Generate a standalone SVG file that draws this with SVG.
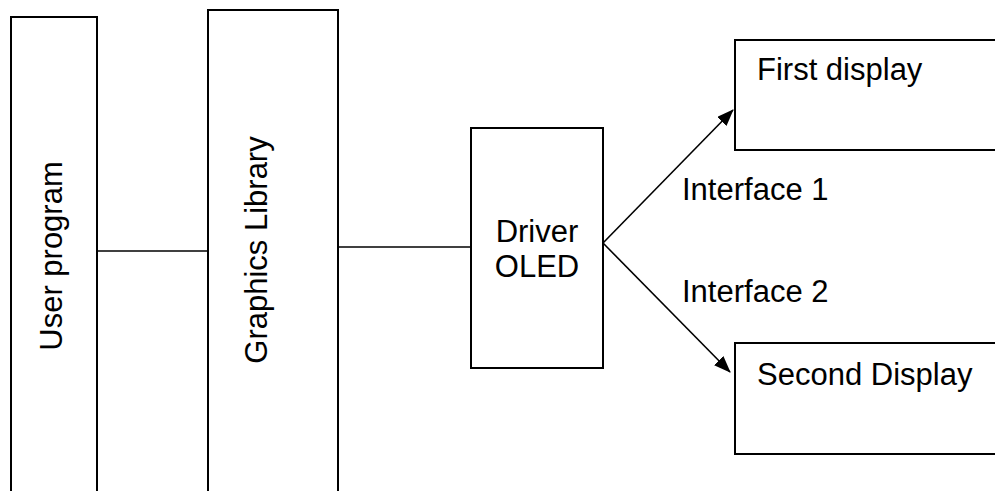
<svg xmlns="http://www.w3.org/2000/svg" width="995" height="491" viewBox="0 0 995 491">
<style>
.box{fill:#fff;stroke:#000;stroke-width:2}
.lbl{font-family:"Liberation Sans",Arial,sans-serif;font-size:31px;fill:#000}
.con{stroke:#000;stroke-width:1.6;fill:none}
</style>
<defs>
<marker id="arr" markerUnits="userSpaceOnUse" markerWidth="18" markerHeight="14" refX="16" refY="6.5" orient="auto">
<path d="M0,0 L17,6.5 L0,13 z" fill="#000"/>
</marker>
</defs>
<rect width="995" height="491" fill="#fff"/>
<g id="connectors">
<line class="con" x1="97" y1="251" x2="208" y2="251"/>
<line class="con" x1="338" y1="247" x2="471" y2="247"/>
<line class="con" x1="603" y1="243" x2="733" y2="110" marker-end="url(#arr)"/>
<line class="con" x1="603" y1="243" x2="730" y2="372" marker-end="url(#arr)"/>
</g>
<g id="user-program">
<rect class="box" x="11" y="17" width="86" height="490"/>
<text class="lbl" x="62" y="256" text-anchor="middle" transform="rotate(-90 62 256)">User program</text>
</g>
<g id="graphics-library">
<rect class="box" x="208" y="10" width="130" height="500"/>
<text class="lbl" x="267" y="250" text-anchor="middle" transform="rotate(-90 267 250)">Graphics Library</text>
</g>
<g id="driver-oled">
<rect class="box" x="471" y="128" width="132" height="240"/>
<text class="lbl" x="537" y="242" text-anchor="middle">Driver</text>
<text class="lbl" x="537" y="277" text-anchor="middle">OLED</text>
</g>
<g id="first-display">
<rect class="box" x="735" y="40" width="300" height="110"/>
<text class="lbl" x="757" y="80">First display</text>
</g>
<g id="second-display">
<rect class="box" x="735" y="343" width="300" height="111"/>
<text class="lbl" x="757" y="385">Second Display</text>
</g>
<g id="interface-labels">
<text class="lbl" x="682" y="200">Interface 1</text>
<text class="lbl" x="682" y="302">Interface 2</text>
</g>
</svg>
